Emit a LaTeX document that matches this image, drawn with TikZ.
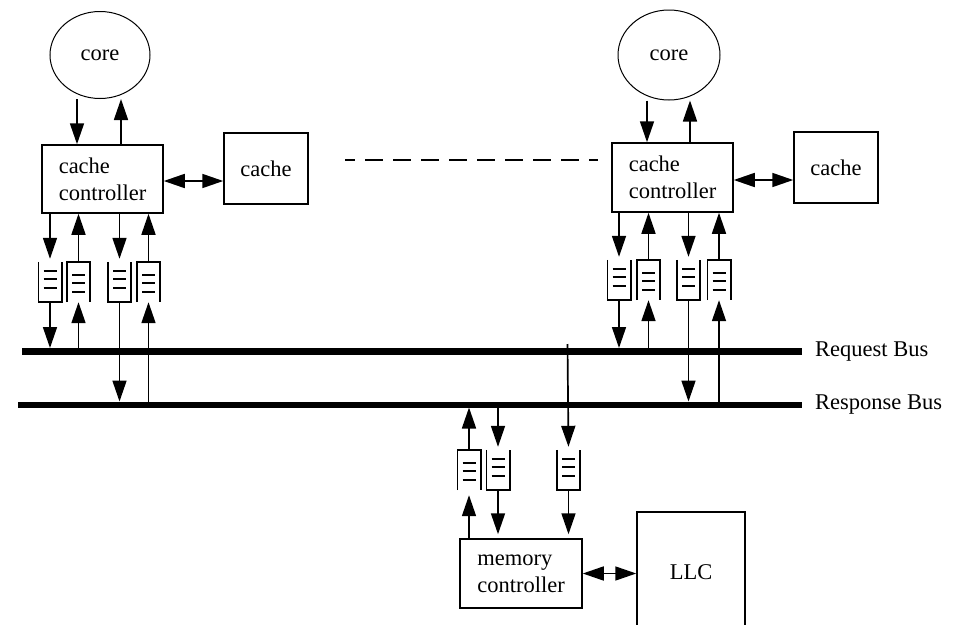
\documentclass[tikz,border=0pt]{standalone}
\usepackage{fontspec}
\setmainfont{Liberation Serif}
\usetikzlibrary{arrows.meta,shapes.geometric,calc}

\tikzset{
  every node/.style={font=\fontsize{22.5}{27}\selectfont},
  unit/.style={draw, line width=1.5pt, inner sep=0pt, align=left},
  corenode/.style={draw, ellipse, line width=1pt, inner sep=0pt},
  fifo/.style={minimum width=23pt, minimum height=40pt, inner sep=0pt},
  tip/.tip={Triangle[length=21pt,width=14pt]},
  arr/.style={line width=1.7pt, -tip},
  darr/.style={line width=1.7pt, tip-tip},
  bus/.style={line width=7pt},
  buslabel/.style={anchor=base west, inner sep=0pt},
  fifoline/.style={line width=1.6pt},
}

% queue open at the top (entries arrive from above)
\newcommand\fifoOpenTop[1]{%
  \draw[fifoline] (#1.north west) -- (#1.south west) -- (#1.south east) -- (#1.north east);
  \foreach \d in {11,3,-6}
    \draw[fifoline] ([xshift=-6.5pt,yshift=\d pt]#1.center) -- ([xshift=6.5pt,yshift=\d pt]#1.center);
}
% queue open at the bottom (entries arrive from below)
\newcommand\fifoOpenBottom[1]{%
  \draw[fifoline] (#1.south west) -- (#1.north west) -- (#1.north east) -- (#1.south east);
  \foreach \d in {7,-1,-10}
    \draw[fifoline] ([xshift=-6.5pt,yshift=\d pt]#1.center) -- ([xshift=6.5pt,yshift=\d pt]#1.center);
}

\begin{document}
\begin{tikzpicture}[x=1pt,y=-1pt]
\useasboundingbox (0,0) rectangle (953,624);
\clip (0,0) rectangle (953,624);

% ---- left core ----
\node[corenode, minimum width=100pt, minimum height=87pt] (coreA) at (100,55) {core};
\node[unit, minimum width=121pt, minimum height=68pt] (ccA) at (102.5,179) {cache\\controller};
\node[unit, minimum width=84pt, minimum height=71pt] (cacheA) at (266,168.5) {cache};
\node[fifo] (qA1) at (50,282) {};
\node[fifo] (qA2) at (78.5,282) {};
\node[fifo] (qA3) at (119.5,282) {};
\node[fifo] (qA4) at (148.5,282) {};
\fifoOpenTop{qA1}
\fifoOpenBottom{qA2}
\fifoOpenTop{qA3}
\fifoOpenBottom{qA4}

% ---- right core ----
\node[corenode, minimum width=102pt, minimum height=90pt] (coreB) at (669,55) {core};
\node[unit, minimum width=121pt, minimum height=69pt] (ccB) at (672.5,177.5) {cache\\controller};
\node[unit, minimum width=84pt, minimum height=71pt] (cacheB) at (836,167.5) {cache};
\node[fifo] (qB1) at (619,280) {};
\node[fifo] (qB2) at (648.5,280) {};
\node[fifo] (qB3) at (688.5,280) {};
\node[fifo] (qB4) at (719,280) {};
\fifoOpenTop{qB1}
\fifoOpenBottom{qB2}
\fifoOpenTop{qB3}
\fifoOpenBottom{qB4}

% ---- memory side ----
\node[fifo] (qM1) at (469,470) {};
\node[fifo] (qM2) at (498,470) {};
\node[fifo] (qM3) at (568.5,470) {};
\fifoOpenBottom{qM1}
\fifoOpenTop{qM2}
\fifoOpenTop{qM3}
\node[unit, minimum width=122pt, minimum height=69pt] (mc) at (521,573.5) {memory\\controller};
\node[unit, minimum width=108pt, minimum height=120pt] (llc) at (691,572) {LLC};

% ---- buses ----
\coordinate (reqW) at (22,351.5);
\coordinate (reqE) at (802,351.5);
\coordinate (resW) at (18,404.5);
\coordinate (resE) at (802,404.5);
\draw[bus] (reqW) -- (reqE);
\draw[bus, line width=6pt] (resW) -- (resE);
\node[buslabel] (reqlab) at (815,356) {Request Bus};
\node[buslabel] (reslab) at (815,409) {Response Bus};

% ---- other cores are elided ----
\coordinate (dashW) at (345,160);
\coordinate (dashE) at (598,160);
\draw[line width=1.3pt, dash pattern=on 18pt off 10pt, dash phase=8pt] (dashW) -- (dashE);

% ---- left connections ----
\draw[arr] ([xshift=-23pt]coreA.south) -- ([xshift=-23pt]coreA.south |- ccA.north);
\draw[arr] ([xshift=21pt]coreA.south |- ccA.north) -- ([xshift=21pt]coreA.south);
\draw[darr] ([yshift=-2pt]ccA.east) -- ([yshift=-2pt]ccA.east -| cacheA.west);
\draw[arr, shorten >=3pt] (ccA.south -| qA1) -- (qA1.north);
\draw[arr] (qA2.north) -- (qA2 |- ccA.south);
\draw[arr, shorten >=3pt] (ccA.south -| qA3) -- (qA3.north);
\draw[arr] (qA4.north) -- (qA4 |- ccA.south);
\draw[arr, shorten >=3.5pt] (qA1.south) -- (qA1 |- reqW);
\draw[arr] (qA2 |- reqW) -- (qA2.south);
\draw[arr, shorten >=3pt] (qA3.south) -- (qA3 |- resW);
\draw[arr] (qA4 |- resW) -- (qA4.south);

% ---- right connections ----
\draw[arr] ([xshift=-22pt]coreB.south) -- ([xshift=-22pt]coreB.south |- ccB.north);
\draw[arr] ([xshift=21pt]coreB.south |- ccB.north) -- ([xshift=21pt]coreB.south);
\draw[darr] ([yshift=-2.5pt]ccB.east) -- ([yshift=-2.5pt]ccB.east -| cacheB.west);
\draw[arr, shorten >=3pt] (ccB.south -| qB1) -- (qB1.north);
\draw[arr] (qB2.north) -- (qB2 |- ccB.south);
\draw[arr, shorten >=3pt] (ccB.south -| qB3) -- (qB3.north);
\draw[arr] (qB4.north) -- (qB4 |- ccB.south);
\draw[arr, shorten >=3.5pt] (qB1.south) -- (qB1 |- reqW);
\draw[arr] (qB2 |- reqW) -- (qB2.south);
\draw[arr, shorten >=3pt] (qB3.south) -- (qB3 |- resW);
\draw[arr] (qB4 |- resW) -- (qB4.south);

% ---- memory connections ----
\draw[arr, shorten >=5pt] (qM1 |- mc.north) -- (qM1.south);
\draw[arr, shorten >=3pt] (qM1.north) -- (qM1 |- resW);
\draw[arr, shorten >=3pt] (qM2 |- resW) -- (qM2.north);
\draw[arr, shorten >=4pt] (qM2.south) -- (qM2 |- mc.north);
\coordinate (tapM) at (567.5,344);
\draw[arr, shorten >=3pt] (tapM) -- (qM3.north);
\draw[arr, shorten >=4pt] (qM3.south) -- (qM3 |- mc.north);
\draw[darr] (mc.east) -- (mc.east -| llc.west);
\end{tikzpicture}
\end{document}
